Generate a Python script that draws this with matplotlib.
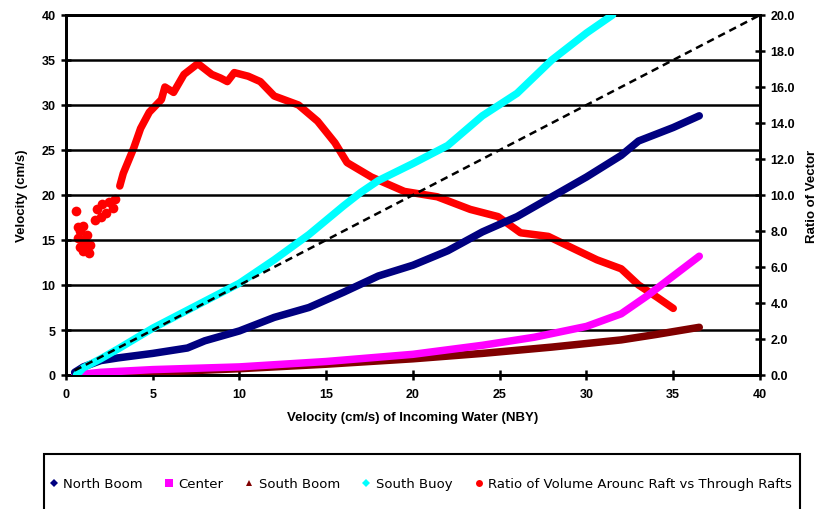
import numpy as np
import matplotlib
matplotlib.use('Agg')
import matplotlib.pyplot as plt
from matplotlib.lines import Line2D
from matplotlib.patches import Rectangle

# ------------------------------ Data --------------------------------------------------------

north_x = [0.5, 1, 2, 3, 5, 7, 8, 10, 12, 14, 16, 18, 20, 22, 24, 26, 28, 30, 32, 33, 35, 36.5]
north_y = [0.3, 0.9, 1.6, 1.9, 2.4, 3.0, 3.8, 4.9, 6.4, 7.5, 9.2, 11.0, 12.2, 13.8, 15.9, 17.6, 19.8, 22.0, 24.4, 26.0, 27.5, 28.8]

center_x = [0.5, 2, 5, 10, 15, 20, 24, 27, 30, 32, 33.5, 35, 36.5]
center_y = [0.0, 0.3, 0.6, 0.9, 1.5, 2.3, 3.3, 4.2, 5.4, 6.8, 8.8, 11.0, 13.2]

south_boom_x = [0.5, 5, 10, 15, 20, 24, 28, 32, 34, 36.5]
south_boom_y = [0.0, 0.3, 0.7, 1.2, 1.8, 2.4, 3.1, 3.9, 4.5, 5.3]

buoy_x = [0.6, 1, 2, 3, 5, 8, 10, 12, 14, 15, 16, 17, 18, 20, 22, 24, 26, 28, 30, 31.5]
buoy_y = [0.0, 0.8, 1.8, 2.9, 5.2, 8.2, 10.2, 12.8, 15.6, 17.2, 18.8, 20.3, 21.6, 23.5, 25.5, 28.8, 31.3, 35.0, 38.0, 40.0]

# ratio (right axis), smooth part
ratio_x = [3.1, 3.3, 3.9, 4.3, 4.8, 5.5, 5.7, 6.2, 6.8, 7.6, 8.4, 8.9, 9.3, 9.7, 10.5, 11.2,
           12.0, 13.4, 14.5, 15.5, 16.2, 17.6, 19.5, 21.4, 23.3, 24.9, 26.2, 27.8, 29.3,
           30.6, 32.0, 33.0, 34.1, 35.0]
ratio_y = [10.5, 11.2, 12.6, 13.7, 14.6, 15.3, 16.0, 15.7, 16.7, 17.3, 16.7, 16.5, 16.3, 16.8, 16.6, 16.3,
           15.5, 15.0, 14.1, 12.9, 11.8, 11.0, 10.2, 9.9, 9.2, 8.8, 7.9, 7.7, 7.0,
           6.4, 5.9, 5.0, 4.3, 3.7]
# ratio, scattered points at low velocity
ratio_scatter_x = [0.6, 0.7, 0.7, 0.8, 0.8, 0.9, 1.0, 1.0, 1.1, 1.2, 1.3, 1.4, 1.7, 1.8, 2.0, 2.1, 2.3, 2.5, 2.7, 2.8]
ratio_scatter_y = [9.1, 8.2, 7.6, 8.0, 7.1, 7.5, 8.3, 6.9, 7.3, 7.8, 6.8, 7.2, 8.6, 9.2, 8.8, 9.5, 9.0, 9.6, 9.3, 9.8]

# 1:1 reference line
ref_x = [0.5, 40]
ref_y = [0.5, 40]

labels = ['North Boom', 'Center', 'South Boom', 'South Buoy',
          'Ratio of Volume Arounc Raft vs Through Rafts']
colors = ['#000080', '#FF00FF', '#800000', '#00FFFF', '#FF0000']

# ------------------------------ Plot -----------------------------------

tick_font = dict(family='Liberation Sans', weight='bold', size=9)

fig = plt.figure(figsize=(8.2, 5.1), dpi=100)
ax = fig.add_axes([66 / 820, 1 - 376 / 510, (760 - 66) / 820, (376 - 16) / 510])
ax2 = ax.twinx()

# keep the velocity axis (with its gridlines) above the ratio series
ax.set_zorder(ax2.get_zorder() + 1)
ax.patch.set_visible(False)

lw = 5.4
ax2.plot(ratio_x, ratio_y, color=colors[4], lw=lw, solid_capstyle='round', solid_joinstyle='round')
ax2.plot(ratio_scatter_x, ratio_scatter_y, 'o', color=colors[4], ms=7, mew=0)

ax.plot(south_boom_x, south_boom_y, color=colors[2], lw=lw, solid_capstyle='round', zorder=3)
ax.plot(center_x, center_y, color=colors[1], lw=lw, solid_capstyle='round', zorder=3)
ax.plot(north_x, north_y, color=colors[0], lw=lw, solid_capstyle='round', zorder=3)
ax.plot(buoy_x, buoy_y, color=colors[3], lw=lw, solid_capstyle='round', zorder=3)
ax.plot(ref_x, ref_y, color='black', lw=1.8, dashes=(3, 2), zorder=4)

ax.set_xlim(0, 40)
ax.set_ylim(0, 40)
ax2.set_ylim(0, 20)
ax.set_xticks(np.arange(0, 41, 5))
ax.set_yticks(np.arange(0, 41, 5))
ax2.set_yticks(np.arange(0, 21, 2))
ax2.set_yticklabels([f'{v:.1f}' for v in np.arange(0, 21, 2)])

ax.yaxis.grid(True, color='black', lw=1.8, zorder=1)
ax.set_axisbelow(True)

for a in (ax, ax2):
    for s in a.spines.values():
        s.set_linewidth(2)
    a.tick_params(direction='inout', length=7, width=1.8, pad=4)
    for lab in a.get_xticklabels() + a.get_yticklabels():
        lab.set_fontproperties(tick_font)
ax.tick_params(axis='x', pad=6)

ax.set_xlabel('Velocity (cm/s) of Incoming Water (NBY)', fontsize=9.5, fontweight='bold',
              family='Liberation Sans', labelpad=8)
ax.set_ylabel('Velocity (cm/s)', fontsize=9.5, fontweight='bold', family='Liberation Sans', labelpad=10)
ax2.set_ylabel('Ratio of Vector', fontsize=9.5, fontweight='bold', family='Liberation Sans', labelpad=8)

# ------------------------------ Legend box -----------------------------------

fig.patches.append(Rectangle((44 / 820, -0.01), (800 - 44) / 820, (510 - 455) / 510 + 0.01,
                             transform=fig.transFigure, fill=False, edgecolor='black', lw=1.5))
markers = ['D', 's', '^', 'D', 'o']
msizes = [4, 6, 5, 4, 5]
handles = [Line2D([], [], ls='none', marker=m, ms=s, color=c, mew=0)
           for m, s, c in zip(markers, msizes, colors)]
fig.legend(handles, labels, loc='center', bbox_to_anchor=(420 / 820, 1 - 485 / 510), ncol=5,
           frameon=False, prop=dict(family='DejaVu Sans', size=9.5), handlelength=0.8,
           handletextpad=0.3, columnspacing=1.6)

fig.savefig('out.png', dpi=100)
